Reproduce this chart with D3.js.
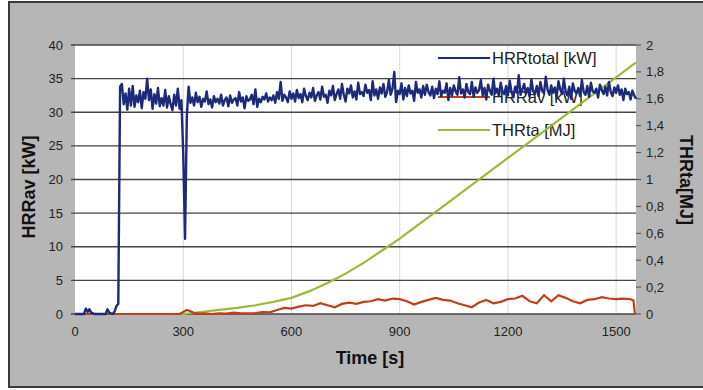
<!DOCTYPE html>
<html>
<head>
<meta charset="utf-8">
<style>
body { margin: 0; background: #ffffff; }
.tick_label { font-family: "Liberation Sans", Arial, sans-serif; font-size: 13px; fill: #222; }
.axis_title { font-family: "Liberation Sans", Arial, sans-serif; font-size: 18px; font-weight: bold; fill: #111; }
.legend_label { font-family: "Liberation Sans", Arial, sans-serif; font-size: 16.5px; fill: #222; }
</style>
<script src="https://d3js.org/d3.v7.min.js"></script>
</head>
<body>
<div id="my_dataviz"></div>
<script>
// HRRtotal [kW], one reading every 5 s starting at t = 0
var hrrTotalStep = 5;
var hrrTotal = [
  0,0,0,0,0,0,0.8,0.3,0.7,0.2,0.1,0,0,0,0,0,0,0,0.7,0.2,
  0.1,0,0.4,1.2,1.5,33.8,34.2,31.2,32.8,30.4,33.5,31.0,33.9,30.8,32.5,31.5,33.2,30.6,33.0,32.0,
  35.0,31.8,33.4,30.5,32.7,31.3,33.6,30.9,32.1,31.0,33.3,30.7,32.4,31.2,30.3,32.6,31.0,33.5,30.5,31.8,
  24.0,11.2,29.5,33.8,31.4,32.2,31.0,32.9,31.5,32.3,30.8,32.0,31.6,33.1,31.2,31.9,30.7,32.4,31.5,32.0,
  31.3,32.6,31.0,31.8,32.2,30.9,32.5,31.4,31.9,32.1,31.0,33.0,31.6,32.2,30.6,32.4,31.7,31.9,32.6,31.2,
  33.4,30.8,32.0,31.5,32.3,31.9,32.8,31.6,32.2,31.8,32.5,31.4,33.0,32.0,34.5,31.7,32.6,32.2,31.5,33.1,
  32.0,32.8,31.6,33.3,32.1,32.7,31.5,33.5,32.4,31.8,32.9,32.2,33.6,31.7,32.5,33.0,31.9,33.8,32.3,32.6,
  31.4,33.2,32.5,33.9,31.8,32.7,33.4,32.0,34.2,32.6,31.6,33.5,32.8,34.0,32.2,33.1,31.9,34.4,32.7,33.0,
  32.4,34.1,32.9,33.3,31.8,34.6,32.5,33.4,32.0,33.7,32.8,34.2,32.3,33.0,34.8,32.6,33.5,36.0,31.5,33.2,
  32.7,34.3,31.9,33.6,32.4,34.0,32.8,33.2,31.7,34.5,32.9,33.4,32.2,33.9,32.6,34.1,33.0,32.5,33.8,32.1,
  33.5,32.7,34.6,32.4,33.2,32.9,34.3,31.8,33.6,32.5,34.0,33.1,32.6,35.2,32.8,33.4,32.2,34.2,33.0,32.7,
  34.5,32.3,33.7,32.9,33.3,34.8,32.5,33.6,31.9,34.1,33.2,32.6,35.0,32.8,33.5,32.4,34.4,33.1,32.7,33.9,
  32.5,34.7,33.0,32.2,33.8,32.9,35.5,32.6,33.4,34.2,32.8,33.6,32.3,34.9,33.1,32.7,33.9,32.4,34.5,33.2,
  32.8,35.3,33.3,32.6,34.0,32.9,33.7,32.2,34.6,33.4,32.7,35.0,33.1,32.5,33.8,32.0,34.3,33.2,32.8,33.6,
  32.4,34.8,33.0,32.6,33.9,32.3,34.4,33.1,32.9,33.5,32.2,34.1,33.3,32.7,33.8,32.5,34.5,33.0,32.4,33.7,
  32.9,34.0,32.6,33.4,31.8,33.5,32.7,33.0,31.9,33.2,32.5,32.0
];

// HRRav [kW]
var hrrAvTime = [0,290,300,310,320,330,345,360,380,400,420,440,460,480,500,520,540,560,580,600,
  620,640,660,680,700,720,740,760,780,800,820,840,860,880,900,920,940,960,980,1000,
  1020,1040,1060,1080,1100,1120,1140,1160,1180,1200,1220,1240,1260,1280,1300,1320,1340,1360,1380,1400,
  1420,1440,1460,1480,1500,1520,1540,1548,1552];
var hrrAv = [0,0,0.3,0.6,0.4,0.15,0.05,0.1,0,0.1,0.05,0.2,0.1,0.1,0.15,0.3,0.25,0.6,0.9,0.8,
  1.1,1.3,1.2,1.6,1.3,1.0,1.5,1.7,1.5,1.8,1.9,2.2,2.0,2.3,2.2,1.9,1.4,1.8,2.1,2.4,
  2.1,2.0,1.6,1.3,1.0,1.7,2.1,1.6,1.8,2.2,2.3,2.7,1.9,1.6,2.8,1.9,2.8,2.4,1.9,1.6,
  2.1,2.2,2.5,2.3,2.2,2.3,2.2,2.0,0];

// THRta [MJ]
var thrTime = [0,300,350,400,450,500,550,600,650,700,750,800,850,900,950,1000,1050,1100,1150,1200,
  1250,1300,1350,1400,1450,1500,1555];
var thr = [0,0,0.015,0.03,0.045,0.065,0.09,0.12,0.17,0.23,0.3,0.38,0.47,0.56,0.66,0.76,0.86,0.96,1.06,1.16,
  1.26,1.36,1.46,1.56,1.66,1.76,1.87];

var xTicks = [0, 300, 600, 900, 1200, 1500];
var yLeftTicks = [0, 5, 10, 15, 20, 25, 30, 35, 40];
var yRightTicks = [0, 0.2, 0.4, 0.6, 0.8, 1, 1.2, 1.4, 1.6, 1.8, 2];

var legendNames = ["HRRtotal [kW]", "HRRav [kW]", "THRta [MJ]"];
var legendColors = ["#1b2a7a", "#c23e14", "#9aba3a"];

var W = 703, H = 390;
var plot = {left: 75, top: 45, right: 636, bottom: 314};

var svg = d3.select("#my_dataviz")
  .append("svg")
    .attr("width", W)
    .attr("height", H);

// grey chart frame
svg.append("rect")
  .attr("x", 9).attr("y", 2)
  .attr("width", W - 8).attr("height", 385)
  .attr("fill", "#b6b6b6")
  .attr("stroke", "#3a3a3a")
  .attr("stroke-width", 2);

svg.append("rect")
  .attr("x", plot.left).attr("y", plot.top)
  .attr("width", plot.right - plot.left).attr("height", plot.bottom - plot.top)
  .attr("fill", "#ffffff");

var x = d3.scaleLinear().domain([0, 1555]).range([plot.left, plot.right]);
var y = d3.scaleLinear().domain([0, 40]).range([plot.bottom, plot.top]);
var y2 = d3.scaleLinear().domain([0, 2]).range([plot.bottom, plot.top]);

// vertical gridlines (faint)
svg.append("g").selectAll("line")
  .data(xTicks.filter(function(d){ return d > 0; }))
  .enter().append("line")
    .attr("x1", function(d){ return x(d); }).attr("x2", function(d){ return x(d); })
    .attr("y1", plot.top).attr("y2", plot.bottom)
    .attr("stroke", "#d8d8d8").attr("stroke-width", 1);

// horizontal gridlines
svg.append("g").selectAll("line")
  .data(yLeftTicks)
  .enter().append("line")
    .attr("x1", plot.left - 4).attr("x2", plot.right)
    .attr("y1", function(d){ return y(d); }).attr("y2", function(d){ return y(d); })
    .attr("stroke", "#454545").attr("stroke-width", 1.4);

// left axis labels
svg.append("g").selectAll("text")
  .data(yLeftTicks)
  .enter().append("text")
    .attr("class", "tick_label")
    .attr("x", 63)
    .attr("y", function(d){ return y(d) + 4.5; })
    .attr("text-anchor", "end")
    .text(function(d){ return d; });

// right axis: ticks and labels with comma decimals
var commaFmt = function(d){ return String(d).replace(".", ","); };
svg.append("g").selectAll("line")
  .data(yRightTicks)
  .enter().append("line")
    .attr("x1", plot.right).attr("x2", plot.right + 5)
    .attr("y1", function(d){ return y2(d); }).attr("y2", function(d){ return y2(d); })
    .attr("stroke", "#4a4a4a").attr("stroke-width", 1);
svg.append("g").selectAll("text")
  .data(yRightTicks)
  .enter().append("text")
    .attr("class", "tick_label")
    .attr("x", 646)
    .attr("y", function(d){ return y2(d) + 4.5; })
    .text(commaFmt);

// bottom axis labels
svg.append("g").selectAll("text")
  .data(xTicks)
  .enter().append("text")
    .attr("class", "tick_label")
    .attr("x", function(d){ return x(d); })
    .attr("y", 336)
    .attr("text-anchor", "middle")
    .text(function(d){ return d; });

// axis titles
svg.append("text").attr("class", "axis_title")
  .attr("transform", "translate(35,187)rotate(-90)")
  .attr("text-anchor", "middle")
  .text("HRRav [kW]");
svg.append("text").attr("class", "axis_title")
  .attr("transform", "translate(680,180)rotate(90)")
  .attr("text-anchor", "middle")
  .text("THRta[MJ]");
svg.append("text").attr("class", "axis_title")
  .attr("x", 370).attr("y", 364)
  .attr("text-anchor", "middle")
  .text("Time [s]");

// legend (drawn under the data lines)
var legend = svg.append("g");
var legendY = [58, 97, 130];
legendNames.forEach(function(name, i) {
  legend.append("line")
    .attr("x1", 438).attr("x2", 490)
    .attr("y1", legendY[i]).attr("y2", legendY[i])
    .attr("stroke", legendColors[i]).attr("stroke-width", 2.2);
  legend.append("text")
    .attr("class", "legend_label")
    .attr("x", 492).attr("y", legendY[i] + 6)
    .text(name);
});

// data lines
var lineTotal = d3.line()
  .x(function(d, i){ return x(i * hrrTotalStep); })
  .y(function(d){ return y(d); });
var lineAv = d3.line()
  .x(function(d, i){ return x(hrrAvTime[i]); })
  .y(function(d){ return y(d); });
var lineThr = d3.line()
  .x(function(d, i){ return x(thrTime[i]); })
  .y(function(d){ return y2(d); });

svg.append("path").datum(thr)
  .attr("d", lineThr)
  .attr("fill", "none").attr("stroke", legendColors[2]).attr("stroke-width", 2.2);
svg.append("path").datum(hrrAv)
  .attr("d", lineAv)
  .attr("fill", "none").attr("stroke", legendColors[1]).attr("stroke-width", 2.2);
svg.append("path").datum(hrrTotal)
  .attr("d", lineTotal)
  .attr("fill", "none").attr("stroke", legendColors[0]).attr("stroke-width", 2.4)
  .attr("stroke-linejoin", "round");
</script>
</body>
</html>
